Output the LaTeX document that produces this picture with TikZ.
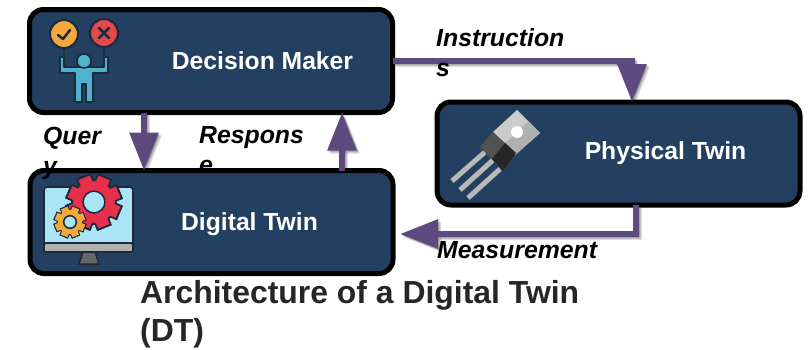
\documentclass[tikz,border=0pt]{standalone}
\usepackage{fontspec}
\setmainfont{Liberation Sans}
\usetikzlibrary{arrows.meta,shadows,backgrounds}
\definecolor{boxblue}{HTML}{234060}
\definecolor{flowpurple}{HTML}{5F4A80}
\definecolor{iconline}{HTML}{1B2A3C}
\definecolor{iconorange}{HTML}{F2A83B}
\definecolor{iconred}{HTML}{E04A4A}
\definecolor{iconteal}{HTML}{4FB3CF}
\definecolor{gearred}{HTML}{E8304A}
\definecolor{screenblue}{HTML}{A9E5F7}
\tikzset{
  twinbox/.style={draw=black,line width=5pt,fill=boxblue,rounded corners=14pt,minimum width=363pt,minimum height=103pt,outer sep=0pt,drop shadow={opacity=.2,shadow xshift=1pt,shadow yshift=-2pt}},
  boxlabel/.style={text=white,font=\fontsize{24.7}{30}\selectfont\bfseries,inner sep=0pt},
  flowlabel/.style={text=black,font=\fontsize{24.8}{30}\selectfont\bfseries\itshape,inner sep=0pt,anchor=north west,align=left},
  flow/.style={draw=flowpurple,line width=6pt,-{Triangle[length=38pt,width=28pt,fill=flowpurple]}},
  flowshadow/.style={draw=black,opacity=.13,line width=6pt,-{Triangle[length=38pt,width=28pt]}}
}
% one connector with its soft shadow under it
\newcommand{\flowpath}[1]{
  \begin{pgfonlayer}{background}
    \foreach \d in {1,2,3}
      \draw[flowshadow,transform canvas={shift={(\d pt,-\d pt)}}] #1;
  \end{pgfonlayer}
  \draw[flow] #1;
}
% gear: x, y, radius, colour, hole colour
\newcommand{\gearicon}[5]{
  \foreach \a in {0,45,...,315}
    \fill[iconline,rotate around={\a+22:(#1,#2)}] (#1-#3*.3,#2-#3*1.08) rectangle (#1+#3*.3,#2+#3*1.08);
  \fill[iconline] (#1,#2) circle (#3*.88);
  \foreach \a in {0,45,...,315}
    \fill[#4,rotate around={\a+22:(#1,#2)}] (#1-#3*.23,#2-#3*1) rectangle (#1+#3*.23,#2+#3*1);
  \fill[#4] (#1,#2) circle (#3*.8);
  \filldraw[fill=#5,draw=iconline,line width=1.5pt] (#1,#2) circle (#3*.42);
}
\begin{document}
\begin{tikzpicture}[x=1pt,y=-1pt]
  \useasboundingbox (0,0) rectangle (808,349);
  \node[twinbox] (decision) at (211,61) {};
  \node[twinbox] (physical) at (618.5,153.5) {};
  \node[twinbox] (digital) at (211.5,222) {};

  \flowpath{([xshift=-67pt]decision.south) -- ([xshift=-67.5pt]digital.north)}
  \flowpath{([xshift=130.5pt]digital.north) -- ([xshift=131pt]decision.south)}
  \flowpath{(decision.east) -| ([xshift=13.5pt]physical.north)}
  \flowpath{([xshift=17.5pt]physical.south) |- (400,234)}

  \node[boxlabel] (decisionlabel) at (262.5,60.5) {Decision Maker};
  \node[boxlabel] (physicallabel) at (665.5,153) {Physical Twin};
  \node[boxlabel] (digitallabel) at (249.5,224) {Digital Twin};

  \node[flowlabel] (instructions) at (436,28) {Instruction\\s};
  \node[flowlabel] (query) at (43,127) {Quer\\y};
  \node[flowlabel] (response) at (199,126) {Respons\\e};
  \node[flowlabel] (measurement) at (437,241) {Measurement};
  \node[inner sep=0pt,anchor=north west,align=left,font=\fontsize{31.9}{38}\selectfont\bfseries,text=black!85] (title) at (140,280) {Architecture of a Digital Twin\\(DT)};

  % decision maker icon
  \draw[iconline,line width=1.5pt] (64,45) -- (64,58) (104,45) -- (104,58);
  \filldraw[fill=iconorange,draw=iconline,line width=2pt] (64,34) circle (14);
  \filldraw[fill=iconred,draw=iconline,line width=2pt] (104,33) circle (14);
  \draw[iconline,line width=2.5pt,line cap=round,line join=round] (58,35) -- (63,39) -- (70,30);
  \draw[iconline,line width=2.5pt,line cap=round] (99,28) -- (109,38) (109,28) -- (99,38);
  \filldraw[fill=iconteal,draw=iconline,line width=1.5pt,line join=round] (60,57) -- (64,57) -- (64,67) -- (104,67) -- (104,57) -- (108,57) -- (108,73) -- (93,73) -- (93,102) -- (86,102) -- (86,84) -- (82,84) -- (82,102) -- (75,102) -- (75,73) -- (60,73) -- cycle;
  \filldraw[fill=iconteal,draw=iconline,line width=1.5pt] (84,61) circle (7);

  % digital twin icon
  \filldraw[fill=screenblue,draw=iconline,line width=1.8pt,rounded corners=3pt] (44,187) rectangle (133,252);
  \filldraw[fill=gray!60,draw=iconline,line width=1.8pt,rounded corners=2pt] (44,243) rectangle (133,252);
  \filldraw[fill=gray!80!black,draw=iconline,line width=1.5pt] (83,252) -- (95,252) -- (99,264) -- (79,264) -- cycle;
  \gearicon{94}{202}{26}{gearred}{screenblue}
  \gearicon{70}{222}{15}{iconorange}{screenblue}

  % physical twin icon
  \draw[gray!55,line width=5pt] (485,152) -- (452,181);
  \draw[gray!55,line width=5pt] (493,160) -- (460,190);
  \draw[gray!55,line width=5pt] (500,169) -- (468,198);
  \fill[gray!40] (517,110) -- (540,133) -- (515,155) -- (493,132) -- cycle;
  \fill[gray!62] (528,122) -- (540,133) -- (515,155) -- (504,144) -- cycle;
  \fill[black!68] (493,132) -- (516,153) -- (503,171) -- (480,147) -- cycle;
  \fill[black!85] (505,143) -- (516,153) -- (503,171) -- (492,159) -- cycle;
  \fill[white] (517,132) circle (6);
\end{tikzpicture}
\end{document}
